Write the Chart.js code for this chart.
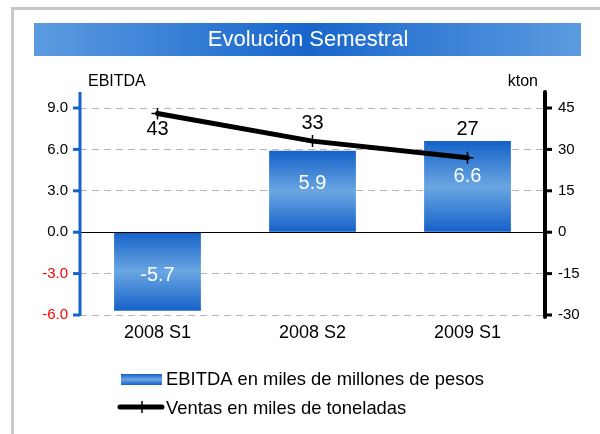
<!DOCTYPE html>
<html>
<head>
<meta charset="utf-8">
<script src="https://cdn.jsdelivr.net/npm/chart.js@4.4.1/dist/chart.umd.min.js"></script>
<style>
  body { margin: 0; background: #fff; }
  #wrap { width: 600px; height: 434px; }
</style>
</head>
<body>
<div id="wrap"><canvas id="evoChart" width="600" height="434"></canvas></div>
<script>
const categories = ['2008 S1', '2008 S2', '2009 S1'];
const ebitda = [-5.7, 5.9, 6.6];
const ventas = [43, 33, 27];
const leftTicks = [-6, -3, 0, 3, 6, 9];
const rightTicks = [-30, -15, 0, 15, 30, 45];

const FONT = '"Liberation Sans", Arial, sans-serif';
const BLUE_DARK = '#1461c8';
const BLUE_LIGHT = '#6aa6e2';

// label offsets (px) relative to bar centre / line point
const barLabelDy = [4, -8, -10];
const lineLabelDy = [16, -18, -28];

function barGradient(c, top, bottom) {
  const g = c.createLinearGradient(0, top, 0, bottom);
  g.addColorStop(0, BLUE_DARK);
  g.addColorStop(0.5, BLUE_LIGHT);
  g.addColorStop(1, BLUE_DARK);
  return g;
}

// frame, title bar, axis titles, axis lines, labels, legend
const decoPlugin = {
  id: 'deco',
  beforeDraw(chart) {
    const c = chart.ctx;
    c.save();
    c.fillStyle = '#fff';
    c.fillRect(0, 0, 600, 434);
    c.strokeStyle = '#c8c8c8';
    c.lineWidth = 3;
    c.strokeRect(12.5, 8.5, 620, 460);

    // title bar
    const g = c.createLinearGradient(34, 0, 581, 0);
    g.addColorStop(0, '#5b9be0');
    g.addColorStop(0.5, '#1866cc');
    g.addColorStop(1, '#5b9be0');
    c.fillStyle = g;
    c.fillRect(34, 23, 547, 33);
    c.fillStyle = '#fff';
    c.font = '22px ' + FONT;
    c.textAlign = 'center';
    c.textBaseline = 'middle';
    c.fillText('Evolución Semestral', 308, 40);

    c.fillStyle = '#000';
    c.font = '16px ' + FONT;
    c.textAlign = 'left';
    c.fillText('EBITDA', 88, 82);
    c.textAlign = 'right';
    c.fillText('kton', 538, 82);
    c.restore();
  },
  afterDatasetsDraw(chart) {
    const c = chart.ctx;
    const area = chart.chartArea;
    const y = chart.scales.y;
    const y1 = chart.scales.y1;
    c.save();
    // zero line
    const y0 = Math.round(y.getPixelForValue(0)) + 0.5;
    c.strokeStyle = '#000';
    c.lineWidth = 1;
    c.beginPath();
    c.moveTo(area.left, y0);
    c.lineTo(area.right, y0);
    c.stroke();

    // left axis (blue)
    c.strokeStyle = '#1464cc';
    c.lineWidth = 3;
    c.beginPath();
    c.moveTo(area.left, area.top - 16);
    c.lineTo(area.left, area.bottom + 1);
    c.stroke();
    c.fillStyle = '#1464cc';
    leftTicks.forEach(v => {
      const py = y.getPixelForValue(v);
      c.fillRect(area.left - 7, py - 1.5, 7, 3);
    });

    // right axis (black)
    c.strokeStyle = '#000';
    c.lineWidth = 4;
    c.lineCap = 'round';
    c.beginPath();
    c.moveTo(area.right, area.top - 16);
    c.lineTo(area.right, area.bottom + 2);
    c.stroke();
    c.fillStyle = '#000';
    rightTicks.forEach(v => {
      const py = y1.getPixelForValue(v);
      c.fillRect(area.right, py - 1.5, 7, 3);
    });

    // bar value labels
    c.textAlign = 'center';
    c.textBaseline = 'middle';
    c.font = '20px ' + FONT;
    c.fillStyle = '#fff';
    chart.getDatasetMeta(0).data.forEach((el, i) => {
      const mid = (el.y + el.base) / 2;
      c.fillText(ebitda[i].toFixed(1), el.x, mid + barLabelDy[i]);
    });

    // line value labels
    c.fillStyle = '#000';
    chart.getDatasetMeta(1).data.forEach((el, i) => {
      c.fillText(String(ventas[i]), el.x, el.y + lineLabelDy[i]);
    });

    // legend
    c.fillStyle = barGradient(c, 374, 385);
    c.fillRect(121, 374, 41, 11);
    c.strokeStyle = '#000';
    c.lineWidth = 5;
    c.lineCap = 'round';
    c.beginPath();
    c.moveTo(120, 407);
    c.lineTo(162, 407);
    c.stroke();
    c.lineWidth = 1.5;
    c.lineCap = 'butt';
    c.beginPath();
    c.moveTo(142, 401);
    c.lineTo(142, 413);
    c.stroke();
    c.fillStyle = '#000';
    c.font = '18.4px ' + FONT;
    c.textAlign = 'left';
    c.fillText('EBITDA en miles de millones de pesos', 166, 380);
    c.fillText('Ventas en miles de toneladas', 166, 409);
    c.restore();
  }
};

const ctx = document.getElementById('evoChart').getContext('2d');
const evoChart = new Chart(ctx, {
  type: 'bar',
  data: {
    labels: categories,
    datasets: [
      {
        label: 'EBITDA en miles de millones de pesos',
        data: ebitda,
        yAxisID: 'y',
        order: 1,
        categoryPercentage: 1,
        barPercentage: 0.56,
        backgroundColor: (context) => {
          const chart = context.chart;
          if (!chart.chartArea || context.type !== 'data') return BLUE_DARK;
          const sc = chart.scales.y;
          const top = sc.getPixelForValue(Math.max(context.raw, 0));
          const bottom = sc.getPixelForValue(Math.min(context.raw, 0));
          return barGradient(chart.ctx, top, bottom);
        }
      },
      {
        type: 'line',
        label: 'Ventas en miles de toneladas',
        data: ventas,
        yAxisID: 'y1',
        order: 0,
        borderColor: '#000',
        borderWidth: 5,
        borderCapStyle: 'round',
        tension: 0,
        pointStyle: 'cross',
        pointRadius: 6,
        pointBorderWidth: 1.5,
        pointBorderColor: '#000',
        pointBackgroundColor: '#000'
      }
    ]
  },
  options: {
    responsive: false,
    animation: false,
    layout: { padding: { top: 108, left: 0, right: 0, bottom: 0 } },
    plugins: {
      legend: { display: false },
      tooltip: { enabled: false }
    },
    scales: {
      x: {
        grid: { display: false, drawTicks: false },
        border: { display: false },
        ticks: { color: '#000', font: { family: FONT, size: 18 }, padding: 7 },
        afterFit: (s) => { s.height = 119; }
      },
      y: {
        position: 'left',
        min: leftTicks[0],
        max: leftTicks[leftTicks.length - 1],
        afterBuildTicks: (s) => { s.ticks = leftTicks.map(v => ({ value: v })); },
        grid: { color: '#b4b4b4', lineWidth: 1, drawTicks: false },
        border: { display: false, dash: [7, 5] },
        ticks: {
          padding: 12,
          font: { family: FONT, size: 15 },
          color: (c) => (c.tick && c.tick.value < 0 ? '#ff0000' : '#000'),
          callback: (v) => Number(v).toFixed(1)
        },
        afterFit: (s) => { s.width = 80; }
      },
      y1: {
        position: 'right',
        min: rightTicks[0],
        max: rightTicks[rightTicks.length - 1],
        afterBuildTicks: (s) => { s.ticks = rightTicks.map(v => ({ value: v })); },
        grid: { display: false, drawTicks: false },
        border: { display: false },
        ticks: { padding: 13, font: { family: FONT, size: 15 }, color: '#000' },
        afterFit: (s) => { s.width = 55; }
      }
    }
  },
  plugins: [decoPlugin]
});
</script>
</body>
</html>
